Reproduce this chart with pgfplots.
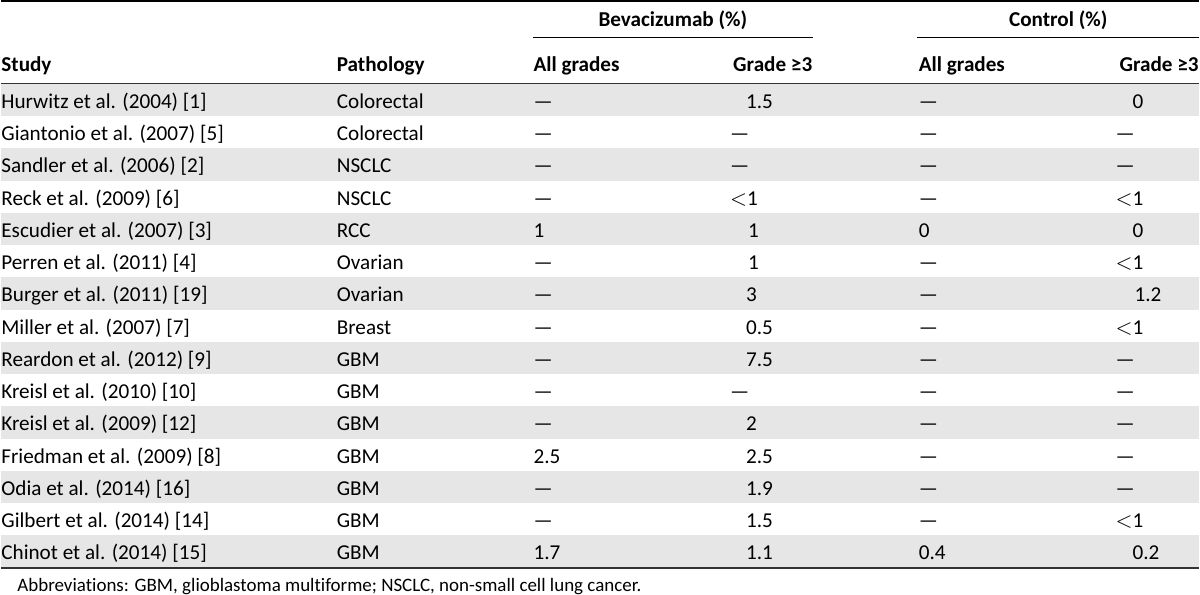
\documentclass[border=0pt]{standalone}
\usepackage{pgfplots}
\pgfplotsset{compat=1.18}
\usepackage{fontspec}
\setmainfont{Carlito}[Ligatures={NoCommon,TeX}]
\definecolor{shade}{HTML}{E6E6E6}
\definecolor{rulec}{HTML}{333333}
\newcommand{\lt}{$<$}
\begin{document}
\begin{tikzpicture}
\begin{axis}[
  width=600pt, height=300.5pt, scale only axis,
  xmin=0, xmax=1200, ymin=0, ymax=601, y dir=reverse,
  hide axis, clip=false,
]
% shaded rows (odd rows)
\pgfplotsinvokeforeach{0,2,4,6,8,10,12,14}{
  \addplot[fill=shade, draw=none] coordinates {(0,{84+32.3*#1}) (1200,{84+32.3*#1}) (1200,{84+32.3*(#1+1)}) (0,{84+32.3*(#1+1)})} -- cycle;
}
% rules
\addplot[draw=black, line width=1pt] coordinates {(0,1) (1200,1)};
\addplot[draw=black, line width=0.5pt] coordinates {(533,38) (813,38)};
\addplot[draw=black, line width=0.5pt] coordinates {(918,38) (1200,38)};
\addplot[draw=rulec, line width=0.8pt] coordinates {(0,83.5) (1200,83.5)};
\addplot[draw=rulec, line width=1pt] coordinates {(0,568.5) (1200,568.5)};
\end{axis}
% text
\begin{scope}[yshift=300.5pt, x=0.5pt, y=-0.5pt, every node/.style={inner sep=0pt, font=\fontsize{10.6}{12}\selectfont}]
\node[anchor=base] at (673,27) {\bfseries Bevacizumab (\%)};
\node[anchor=base] at (1059,27) {\bfseries Control (\%)};
\node[anchor=base west] at (0,72) {\bfseries Study};
\node[anchor=base west] at (336,72) {\bfseries Pathology};
\node[anchor=base west] at (533,72) {\bfseries All grades};
\node[anchor=base east] at (813,72) {\bfseries Grade ≥3};
\node[anchor=base west] at (919,72) {\bfseries All grades};
\node[anchor=base east] at (1200,72) {\bfseries Grade ≥3};
\foreach \i/\s/\p/\a/\ax/\b/\bx/\c/\cx/\d/\dx in {
 0/Hurwitz et al. (2004) [1]/Colorectal/—/533/1.5/746/—/919/0/1133,
 1/Giantonio et al. (2007) [5]/Colorectal/—/533/—/730/—/919/—/1116,
 2/Sandler et al. (2006) [2]/NSCLC/—/533/—/730/—/919/—/1116,
 3/Reck et al. (2009) [6]/NSCLC/—/533/\lt1/730/—/919/\lt1/1116,
 4/Escudier et al. (2007) [3]/RCC/1/533/1/748/0/919/0/1133,
 5/Perren et al. (2011) [4]/Ovarian/—/533/1/748/—/919/\lt1/1116,
 6/Burger et al. (2011) [19]/Ovarian/—/533/3/746/—/919/1.2/1135,
 7/Miller et al. (2007) [7]/Breast/—/533/0.5/746/—/919/\lt1/1116,
 8/Reardon et al. (2012) [9]/GBM/—/533/7.5/746/—/919/—/1116,
 9/Kreisl et al. (2010) [10]/GBM/—/533/—/730/—/919/—/1116,
 10/Kreisl et al. (2009) [12]/GBM/—/533/2/746/—/919/—/1116,
 11/Friedman et al. (2009) [8]/GBM/2.5/533/2.5/746/—/919/—/1116,
 12/Odia et al. (2014) [16]/GBM/—/533/1.9/746/—/919/—/1116,
 13/Gilbert et al. (2014) [14]/GBM/—/533/1.5/746/—/919/\lt1/1116,
 14/Chinot et al. (2014) [15]/GBM/1.7/533/1.1/746/0.4/919/0.2/1133}{
  \pgfmathsetmacro{\yy}{84+32.3*\i+24.5}
  \node[anchor=base west] at (0,\yy) {\s};
  \node[anchor=base west] at (336,\yy) {\p};
  \node[anchor=base west] at (\ax,\yy) {\a};
  \node[anchor=base west] at (\bx,\yy) {\b};
  \node[anchor=base west] at (\cx,\yy) {\c};
  \node[anchor=base west] at (\dx,\yy) {\d};
}
\node[anchor=base west, font=\fontsize{9.5}{11}\selectfont] at (16,592) {Abbreviations: GBM, glioblastoma multiforme; NSCLC, non-small cell lung cancer.};
\end{scope}
\end{tikzpicture}
\end{document}
